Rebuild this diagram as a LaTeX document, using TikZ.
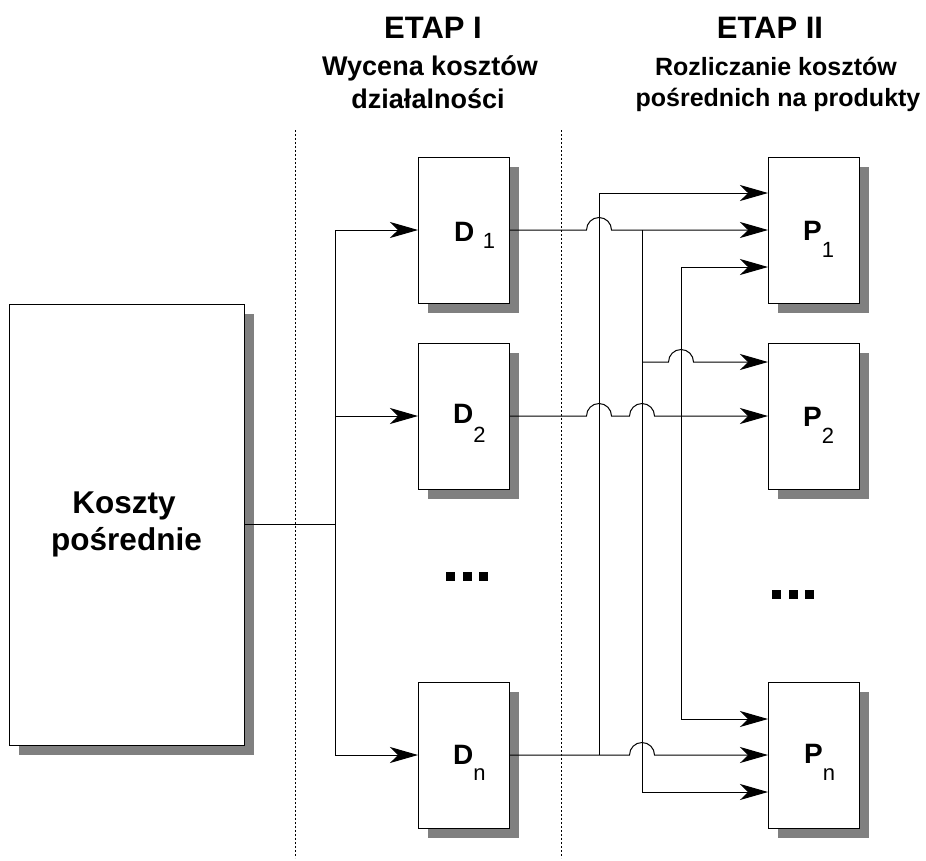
\documentclass[tikz,border=0pt]{standalone}
\usepackage{fontspec}
\setmainfont{Liberation Sans}
\usetikzlibrary{arrows.meta,shadows}
\definecolor{shadowgray}{RGB}{128,128,128}
\newcommand\mysub[2]{\raisebox{-#1pt}{\fontsize{22}{22}\selectfont\mdseries #2}}
\begin{document}
\begin{tikzpicture}[x=1pt,y=-1pt,
  box/.style={draw=black,fill=white,line width=1pt,inner sep=0pt,outer sep=0pt,
    minimum width=91pt,minimum height=146pt,
    drop shadow={shadow xshift=10pt,shadow yshift=-10pt,fill=shadowgray,opacity=1}},
  conn/.style={line width=1pt},
  arr/.style={conn,-{Stealth[length=28pt,width=16pt,inset=8pt]}},
  sepline/.style={line width=1pt,dash pattern=on 2pt off 2pt},
  lbl/.style={inner sep=0pt,anchor=base west,font=\fontsize{28}{28}\selectfont\bfseries},
  head/.style={inner sep=0pt,anchor=base,font=\fontsize{31}{31}\selectfont\bfseries},
  subhead/.style={inner sep=0pt,anchor=base,font=\fontsize{27}{27}\selectfont\bfseries},
  subheadr/.style={inner sep=0pt,anchor=base,font=\fontsize{25}{25}\selectfont\bfseries},
  big/.style={inner sep=0pt,anchor=base,font=\fontsize{31.5}{31.5}\selectfont\bfseries}
  ]
\useasboundingbox (0,0) rectangle (926,860);

% separators
\draw[sepline] (295,130) -- (295,858);
\draw[sepline] (561,130) -- (561,858);

% headings
\node[head] (e1) at (433,38) {ETAP I};
\node[subhead] (e1a) at (430,75) {Wycena kosztów};
\node[subhead] (e1b) at (428,108) {działalności};
\node[head] (e2) at (770,38) {ETAP II};
\node[subheadr] (e2a) at (776,75) {Rozliczanie kosztów};
\node[subheadr] (e2b) at (778,106) {pośrednich na produkty};

% boxes
\node[box,minimum width=235pt,minimum height=441pt] (K) at (126.5,524.5) {};
\node[big] (k1) at (124,513) {Koszty};
\node[big] (k2) at (126.5,550) {pośrednie};

\node[box] (D1) at (463.5,230) {};
\node[box] (D2) at (463.5,416) {};
\node[box] (Dn) at (463.5,755) {};
\node[box] (P1) at (813.5,230) {};
\node[box] (P2) at (813.5,416) {};
\node[box] (Pn) at (813.5,755) {};

\node[lbl] (lD1) at (454,241) {D\,\mysub{7}{\,1}};
\node[lbl] (lD2) at (453,423) {D\mysub{19}{2}};
\node[lbl] (lDn) at (453,764) {D\mysub{16}{n}};
\node[lbl] (lP1) at (803,240) {P\mysub{17}{1}};
\node[lbl] (lP2) at (803,426) {P\mysub{17}{2}};
\node[lbl] (lPn) at (804,763) {P\mysub{17}{n}};

% dots
\foreach \i in {0,1,2} {
  \fill (446+16.5*\i,572) rectangle ++(9,9);
  \fill (772+16.5*\i,590) rectangle ++(9,9);
}

% left distribution
\coordinate (bl) at (335,524.5);
\coordinate (bt) at (335,230);
\coordinate (bm) at (335,416);
\coordinate (bb) at (335,755);
\draw[conn] (K.east) -- (bl);
\draw[conn] (bt) -- (bb);
\draw[arr] (bt) -- (D1.west);
\draw[arr] (bm) -- (D2.west);
\draw[arr] (bb) -- (Dn.west);

% D1 outputs
\draw[arr] (D1.east) -- (586.5,230) arc[start angle=180,end angle=0,radius=12.5pt] -- (P1.west);
\coordinate (v1t) at (642,230);
\coordinate (v1m) at (642,362);
\draw[arr] (v1t) |- ([yshift=-37pt]Pn.west);
\draw[arr] (v1m) -- (668.5,362) arc[start angle=180,end angle=0,radius=12.5pt] -- ([yshift=54pt]P2.west);

% D2 outputs
\draw[arr] (D2.east) -- (586.5,416) arc[start angle=180,end angle=0,radius=12.5pt]
  -- (629.5,416) arc[start angle=180,end angle=0,radius=12.5pt] -- (P2.west);
\coordinate (v2t) at (681,267);
\coordinate (v2b) at (681,719);
\draw[conn] (v2t) -- (v2b);
\draw[arr] (v2t) -- ([yshift=-37pt]P1.west);
\draw[arr] (v2b) -- ([yshift=36pt]Pn.west);

% Dn outputs
\draw[arr] (Dn.east) -- (629.5,755) arc[start angle=180,end angle=0,radius=12.5pt] -- (Pn.west);
\coordinate (v3b) at (599,755);
\draw[arr] (v3b) |- ([yshift=37pt]P1.west);
\end{tikzpicture}
\end{document}
